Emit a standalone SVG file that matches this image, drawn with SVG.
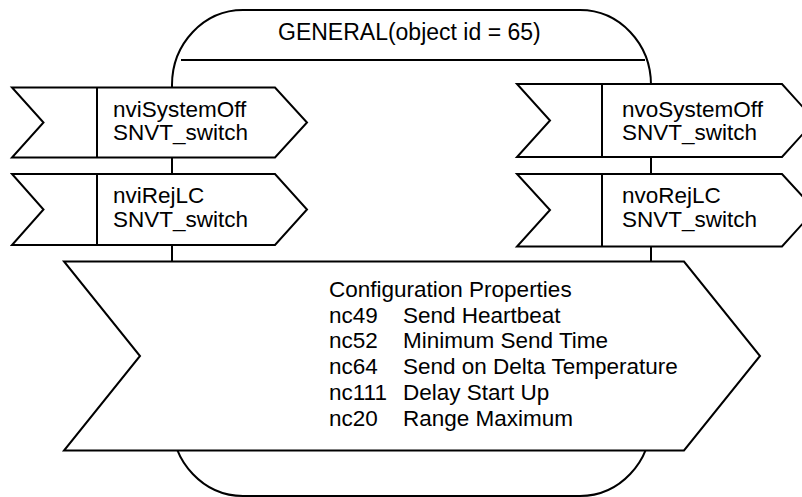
<svg xmlns="http://www.w3.org/2000/svg" width="802" height="497" viewBox="0 0 802 497">
  <style>
    .shape { fill: #fff; stroke: #000; stroke-width: 2; stroke-linejoin: miter; }
    .line { fill: none; stroke: #000; stroke-width: 2; }
    .t { font-family: "Liberation Sans", Arial, Helvetica, sans-serif; font-size: 22.5px; fill: #000; }
    .title { font-size: 23px; }
  </style>
  <rect width="802" height="497" fill="#fff"/>

  <g id="general">
    <rect class="shape" x="172" y="10" width="479" height="486" rx="71" ry="75"/>
    <line class="line" x1="181" y1="60" x2="645" y2="60"/>
    <text class="t title" x="278" y="39.5">GENERAL(object id = 65)</text>
  </g>

  <g id="connectors"/>

  <g id="nviSystemOff">
    <polygon class="shape" points="12,87.5 275,87.5 307,122.5 275,157.5 12,157.5 43.5,122.5"/>
    <line class="line" x1="97" y1="87.5" x2="97" y2="157.5"/>
    <text class="t" x="113" y="116.7">nviSystemOff</text>
    <text class="t" x="113" y="140">SNVT_switch</text>
  </g>

  <g id="nviRejLC">
    <polygon class="shape" points="12,174 275,174 307,209.5 275,245 12,245 43.5,209.5"/>
    <line class="line" x1="97" y1="174" x2="97" y2="245"/>
    <text class="t" x="113" y="203">nviRejLC</text>
    <text class="t" x="113" y="226.7">SNVT_switch</text>
  </g>

  <g id="nvoSystemOff">
    <polygon class="shape" points="517,84 782,84 815,120.5 782,157 517,157 550,120.5"/>
    <line class="line" x1="602" y1="84" x2="602" y2="157"/>
    <text class="t" x="622" y="116.7">nvoSystemOff</text>
    <text class="t" x="622" y="140">SNVT_switch</text>
  </g>

  <g id="nvoRejLC">
    <polygon class="shape" points="517,174 782,174 815,210 782,246.5 517,246.5 550,210"/>
    <line class="line" x1="602" y1="174" x2="602" y2="246.5"/>
    <text class="t" x="622" y="203">nvoRejLC</text>
    <text class="t" x="622" y="226.7">SNVT_switch</text>
  </g>

  <g id="configuration">
    <polygon class="shape" points="64,261.5 684,261.5 760,356 684,450.5 64,450.5 140,356"/>
    <text class="t" x="329" y="296.7">Configuration Properties</text>
    <text class="t" x="329" y="322.5">nc49</text>
    <text class="t" x="403" y="322.5">Send Heartbeat</text>
    <text class="t" x="329" y="348.3">nc52</text>
    <text class="t" x="403" y="348.3">Minimum Send Time</text>
    <text class="t" x="329" y="374.1">nc64</text>
    <text class="t" x="403" y="374.1">Send on Delta Temperature</text>
    <text class="t" x="329" y="399.9">nc111</text>
    <text class="t" x="403" y="399.9">Delay Start Up</text>
    <text class="t" x="329" y="425.7">nc20</text>
    <text class="t" x="403" y="425.7">Range Maximum</text>
  </g>
</svg>
